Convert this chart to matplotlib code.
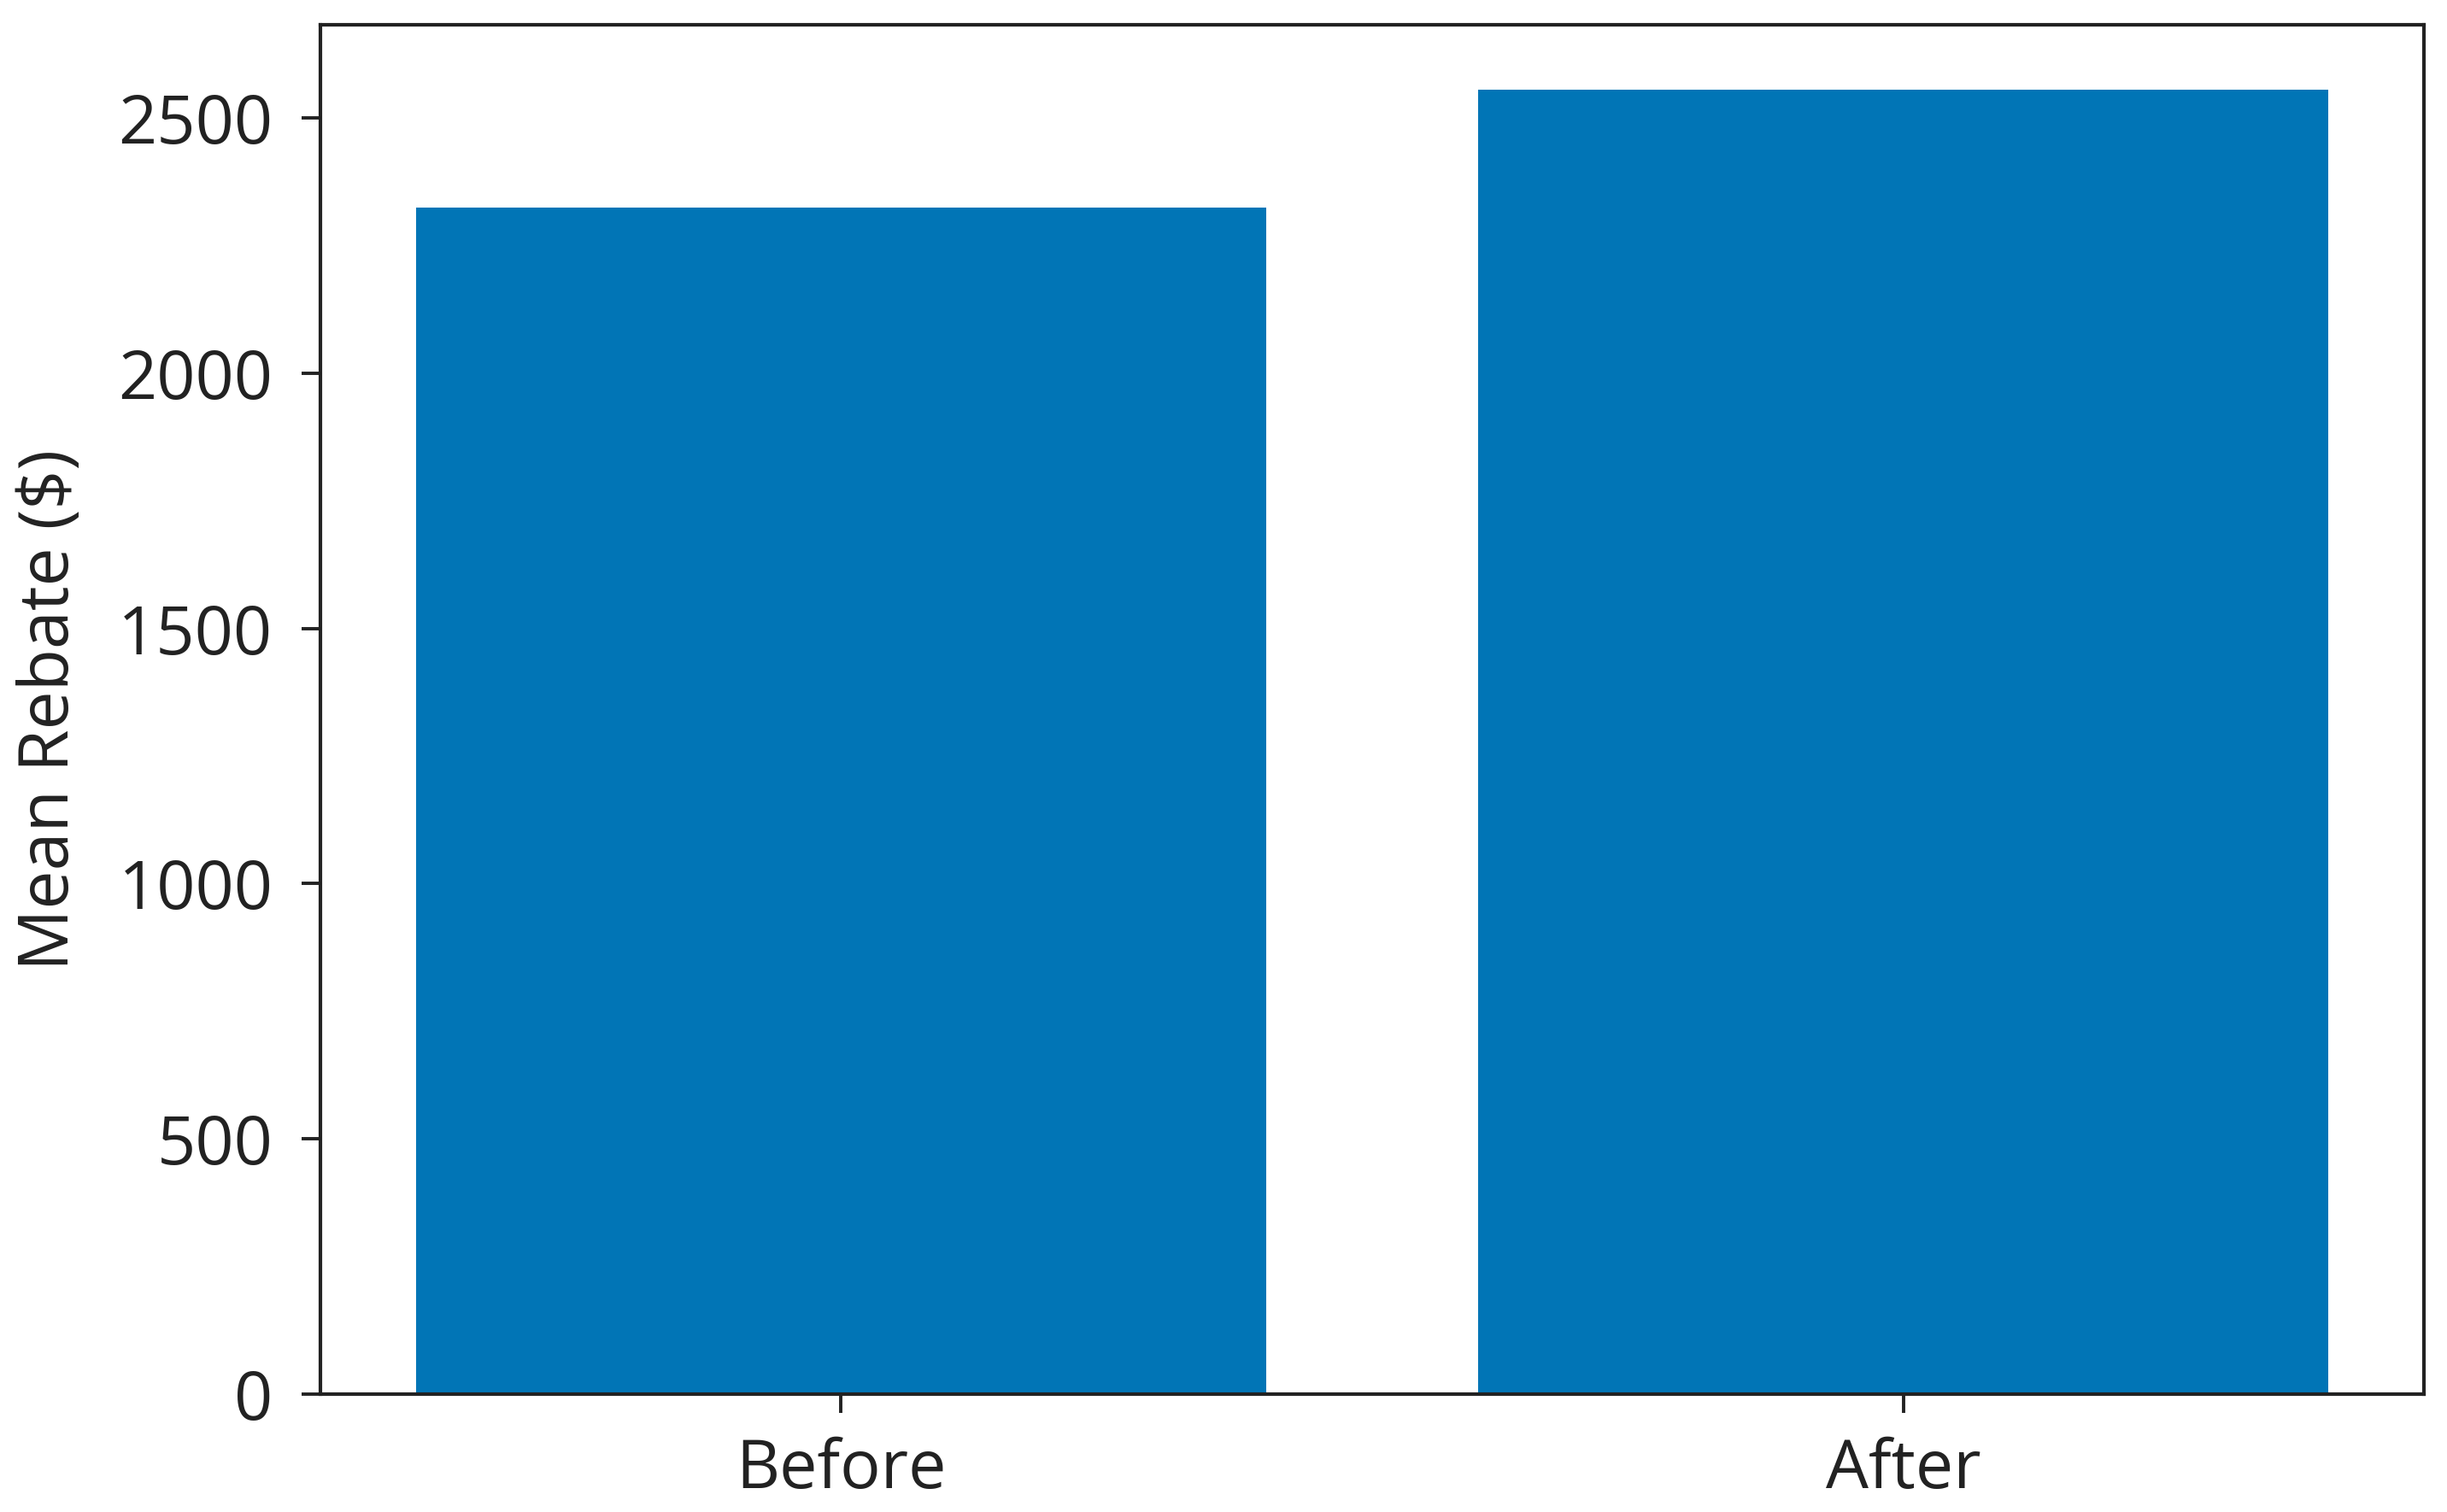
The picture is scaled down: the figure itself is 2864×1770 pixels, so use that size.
import matplotlib
matplotlib.use("Agg")
import matplotlib.pyplot as plt

periods = ["Before", "After"]
mean_rebate = [2324, 2555]

plt.rcParams['font.family'] = ['Open Sans', 'DejaVu Sans']

fig = plt.figure(figsize=(14.32, 8.85), dpi=200)
ax = fig.add_axes([0.1309, 0.078, 0.8597, 0.9056])
ax.bar(periods, mean_rebate, color="#0175b6")
ax.set_ylabel("Mean Rebate ($)", fontsize=29, color="#222222", labelpad=14)
ax.set_yticks([0, 500, 1000, 1500, 2000, 2500])
ax.tick_params(labelsize=28.5, length=8, width=1.4, pad=12, colors="#222222")
ax.tick_params(axis="x", pad=10)
for s in ax.spines.values():
    s.set_linewidth(1.5)
    s.set_color("#222222")

fig.savefig("out.png", dpi=200)
